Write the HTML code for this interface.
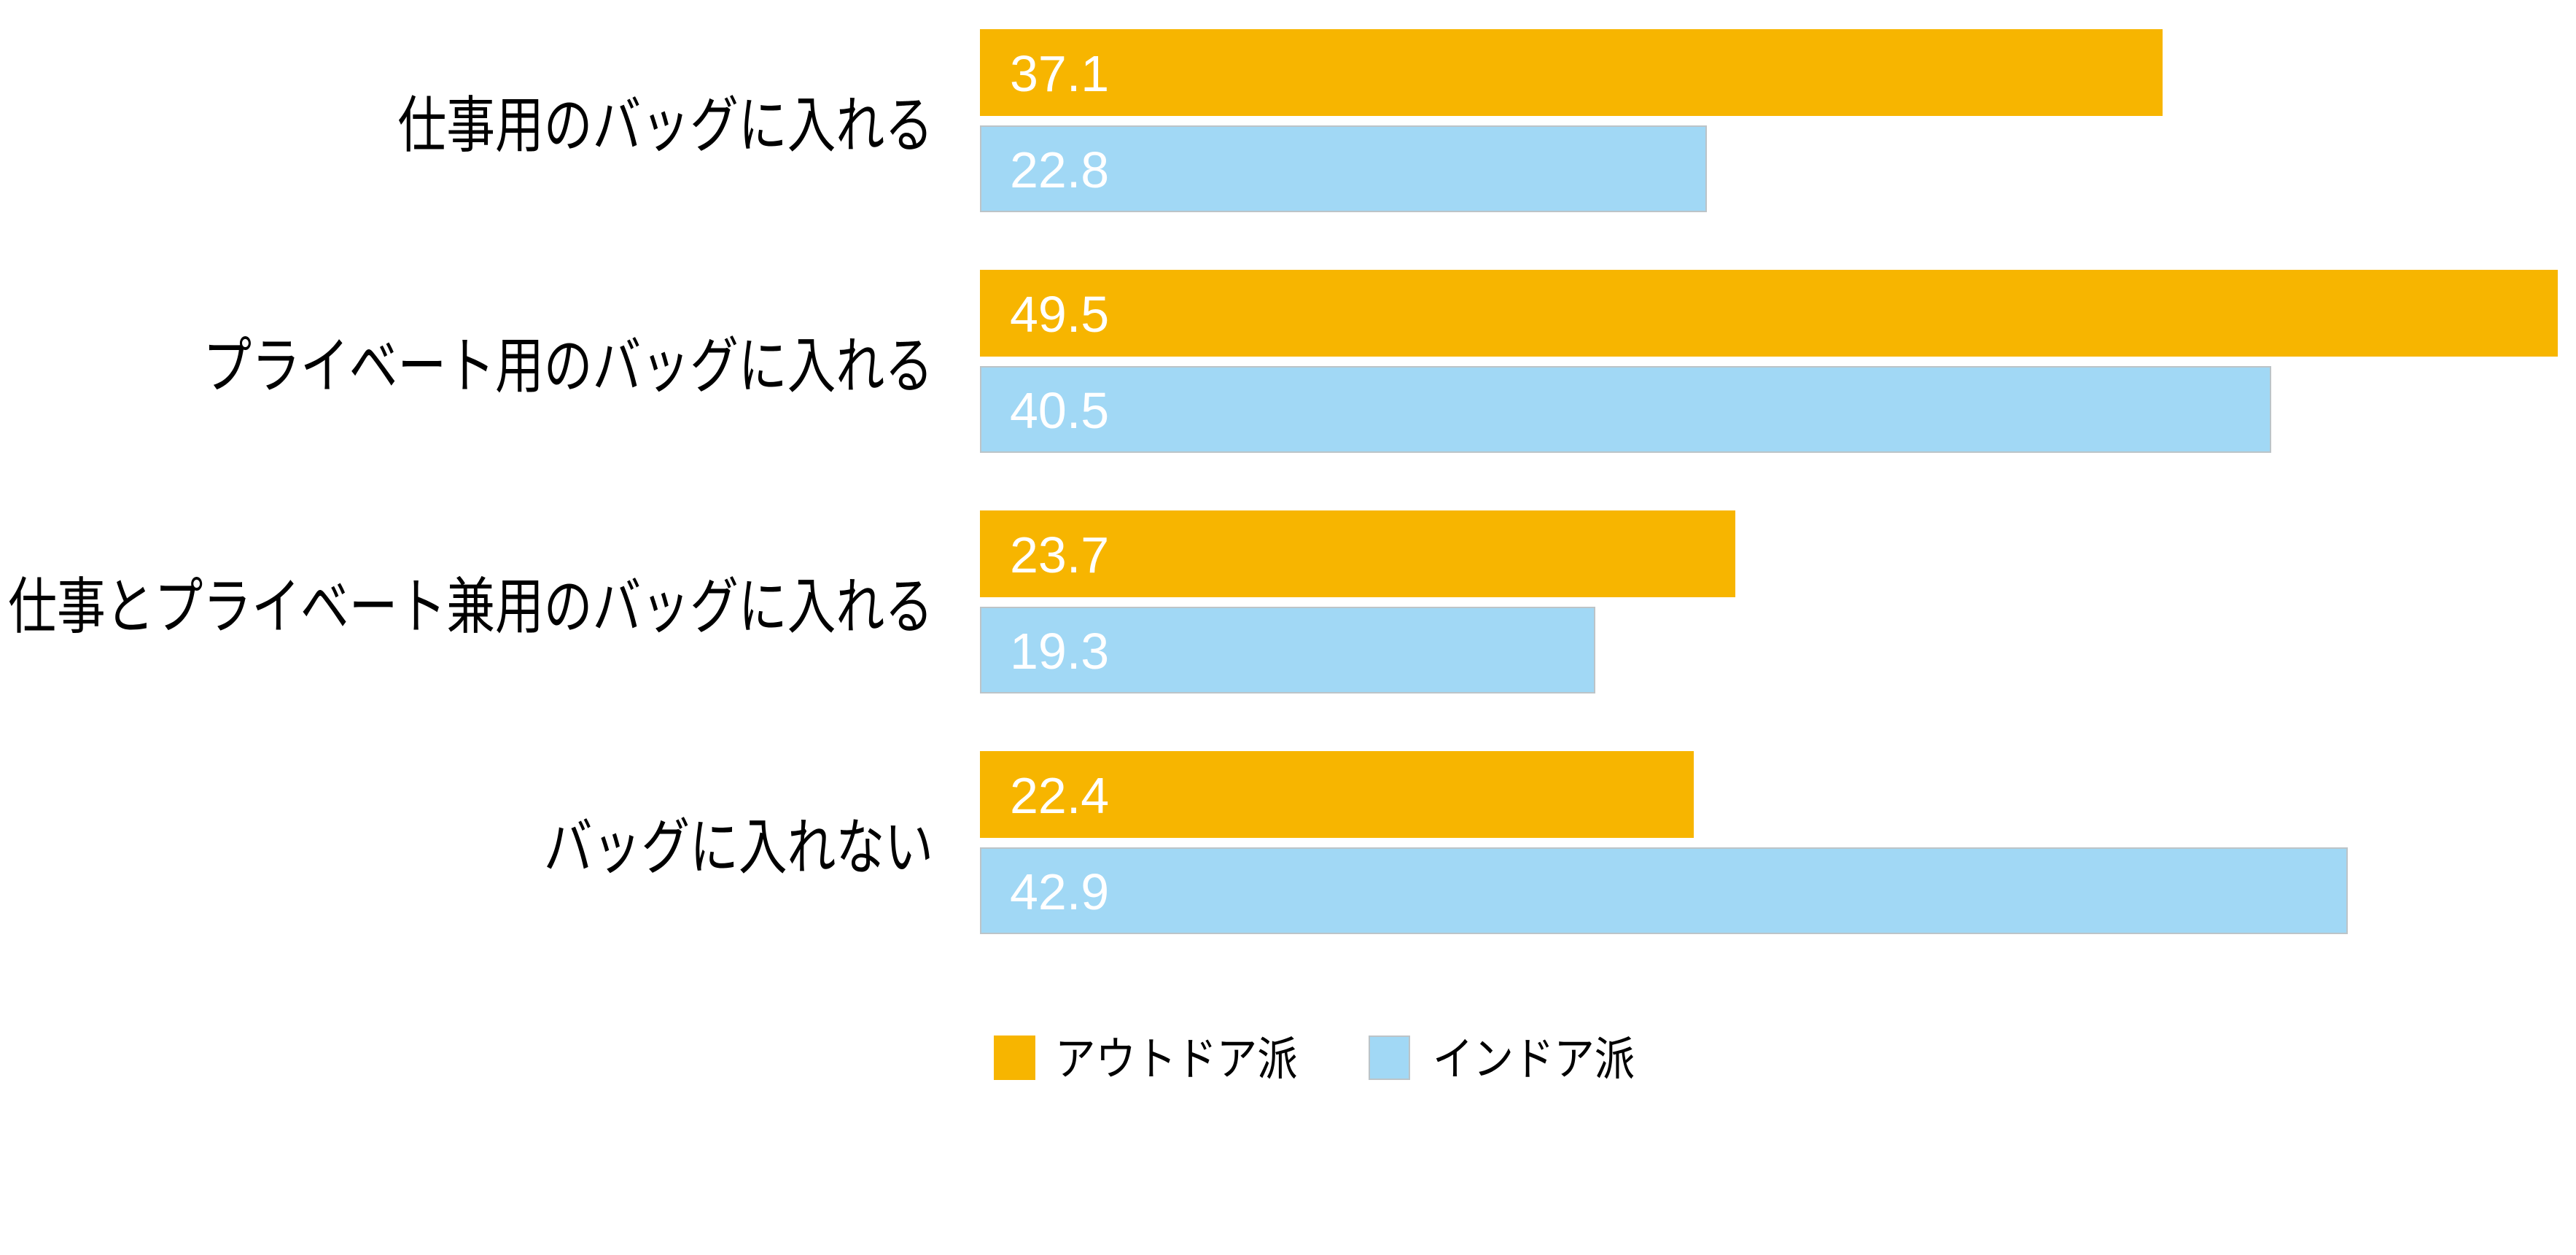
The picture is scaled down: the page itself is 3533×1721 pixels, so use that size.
<!DOCTYPE html>
<html><head><meta charset="utf-8"><style>
html,body{margin:0;padding:0;background:#fff;}
body{width:3533px;height:1721px;position:relative;overflow:hidden;font-family:"Liberation Sans","Noto Sans CJK JP",sans-serif;}
.b{position:absolute;left:1344px;height:119px;}
.o{background:#f7b500;}
.l{background:#a1d8f5;box-shadow:inset 0 0 0 2px #bcc4c8;}
.v{position:absolute;left:41px;top:2px;line-height:119px;font-size:70px;color:#fff;}
.c{position:absolute;right:2253px;font-size:84px;line-height:90px;color:#000;white-space:nowrap;transform:scaleX(0.795);transform-origin:right center;}
.sq{position:absolute;top:1420px;width:57px;height:61px;}
.lt{position:absolute;top:1415px;font-size:63px;line-height:76px;white-space:nowrap;transform:scaleX(0.88);transform-origin:left center;}
</style></head><body>
<div class="c" style="top:127px">仕事用のバッグに入れる</div>
<div class="c" style="top:457px">プライベート用のバッグに入れる</div>
<div class="c" style="top:787px">仕事とプライベート兼用のバッグに入れる</div>
<div class="c" style="top:1117px">バッグに入れない</div>

<div class="b o" style="top:40px;width:1622px"><span class="v">37.1</span></div>
<div class="b l" style="top:172px;width:997px"><span class="v">22.8</span></div>
<div class="b o" style="top:370px;width:2164px"><span class="v">49.5</span></div>
<div class="b l" style="top:502px;width:1771px"><span class="v">40.5</span></div>
<div class="b o" style="top:700px;width:1036px"><span class="v">23.7</span></div>
<div class="b l" style="top:832px;width:844px"><span class="v">19.3</span></div>
<div class="b o" style="top:1030px;width:979px"><span class="v">22.4</span></div>
<div class="b l" style="top:1162px;width:1876px"><span class="v">42.9</span></div>

<div class="sq o" style="left:1363px"></div>
<div class="lt" style="left:1447px">アウトドア派</div>
<div class="sq l" style="left:1877px"></div>
<div class="lt" style="left:1965px">インドア派</div>
</body></html>
